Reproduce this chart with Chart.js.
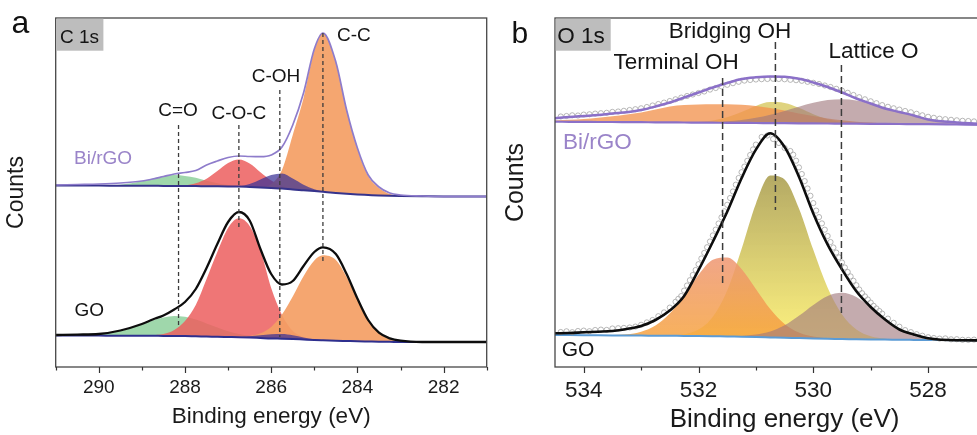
<!DOCTYPE html>
<html>
<head>
<meta charset="utf-8">
<script src="https://cdn.jsdelivr.net/npm/chart.js@4.4.1/dist/chart.umd.min.js"></script>
<style>
  html, body { margin: 0; padding: 0; background: #ffffff; overflow: hidden; width: 977px; height: 435px; }
  #wrap { position: relative; width: 977px; height: 435px; overflow: hidden; }
  canvas { position: absolute; top: 0; }
  #chartC { left: 0; }
  #chartO { left: 500px; }
</style>
</head>
<body>
<div id="wrap">
  <canvas id="chartC" width="500" height="450"></canvas>
  <canvas id="chartO" width="530" height="450"></canvas>
</div>
<script>
// ---------- C 1s panel (binding energy in eV, intensity in arbitrary counts) ----------
const energyC = [291, 290.5, 290, 289.5, 289, 288.75, 288.5, 288.25, 288, 287.75, 287.5, 287.25, 287, 286.75, 286.5, 286.25, 286, 285.75, 285.5, 285.25, 285, 284.8, 284.5, 284.25, 284, 283.75, 283.5, 283.25, 283, 282.5, 282, 281.5, 281];

const cBiEnvelope = [182, 182.5, 183, 184, 186, 188, 190.5, 193, 194.5, 196.5, 202, 206, 209.5, 211, 210.5, 210.3, 212, 220, 242, 274, 318, 334, 305, 257, 219, 192, 180, 174, 172, 171, 170.5, 170.5, 170.5];
const cBiBaseline = [181.5, 181.4, 181.4, 181.3, 181.3, 181.2, 181.1, 181, 181, 180.9, 180.8, 180.7, 180.6, 180.5, 180, 179.5, 179, 178.5, 177.5, 176.8, 176, 175.2, 174, 173.2, 172.5, 172, 171.5, 171.2, 171, 170.7, 170.5, 170.5, 170.5];
const cBiCC = [181.5, 181.4, 181.4, 181.3, 181.3, 181.2, 181.1, 181, 181, 180.9, 180.8, 180.7, 180.6, 180.5, 180, 179.7, 183, 197, 232, 269, 317, 334, 305, 257, 218, 191, 179, 173, 171, 170.7, 170.5, 170.5, 170.5];
const cBiCOH = [181.5, 181.4, 181.4, 181.3, 181.3, 181.2, 181.1, 181, 181, 180.9, 180.8, 180.7, 180.6, 180.7, 183, 187.5, 192, 193.5, 188.5, 182.3, 177.7, 175.5, 174, 173.2, 172.5, 172, 171.5, 171.2, 171, 170.7, 170.5, 170.5, 170.5];
const cBiCOC = [181.5, 181.4, 181.4, 181.3, 181.3, 181.2, 181.1, 181, 181.7, 183.7, 188.2, 196, 204, 207.5, 203.4, 194.7, 186.4, 181.2, 178.2, 176.8, 176, 175.2, 174, 173.2, 172.5, 172, 171.5, 171.2, 171, 170.7, 170.5, 170.5, 170.5];
const cBiCO = [181.5, 181.5, 181.6, 182.3, 185.7, 188.4, 190.8, 192, 190.9, 189.2, 186.3, 183.7, 182, 180.7, 180, 179.5, 179, 178.5, 177.5, 176.8, 176, 175.2, 174, 173.2, 172.5, 172, 171.5, 171.2, 171, 170.7, 170.5, 170.5, 170.5];

const cGoEnvelope = [32, 32.4, 33, 36.5, 43, 47.5, 51.5, 57.5, 65, 78, 99, 123, 145, 155, 146.5, 118, 93, 82.5, 86, 101, 115, 119.7, 113, 93, 68.5, 47, 34.3, 28.7, 26.3, 25, 25, 25, 25];
const cGoBaseline = [31.5, 31.5, 31.4, 31.3, 31.3, 31.2, 31.1, 31, 31, 30.7, 30.5, 30.2, 30, 29.8, 29.5, 29, 28.5, 28.3, 28, 27.5, 27, 26.7, 26.3, 26, 25.7, 25.5, 25.3, 25.2, 25, 25, 25, 25, 25];
const cGoCC = [31.5, 31.5, 31.4, 31.3, 31.3, 31.2, 31.1, 31, 31, 30.7, 30.5, 30.2, 30, 30.2, 31.1, 33.7, 40.1, 52.4, 70.5, 90.8, 106.6, 111.7, 107, 90, 68, 47, 34.3, 28.7, 26.3, 25, 25, 25, 25];
const cGoCOH = [31.5, 31.5, 31.4, 31.3, 31.3, 31.2, 31.1, 31, 31, 30.7, 30.5, 30.2, 30, 29.8, 30.7, 31.7, 32.7, 33, 31.7, 29.5, 27.8, 26.7, 26.3, 26, 25.7, 25.5, 25.3, 25.2, 25, 25, 25, 25, 25];
const cGoCOC = [31.5, 31.5, 31.4, 31.3, 31.3, 31.8, 33.1, 37, 46, 62, 88, 115, 139, 148.7, 141, 117, 79, 52, 36, 30, 27.3, 26.7, 26.3, 26, 25.7, 25.5, 25.3, 25.2, 25, 25, 25, 25, 25];
const cGoCO = [31.5, 31.6, 32.7, 36, 42.5, 46.6, 49.5, 51, 50.3, 47.5, 43.6, 39.4, 35.8, 33.1, 31.2, 29.8, 28.5, 28.3, 28, 27.5, 27, 26.7, 26.3, 26, 25.7, 25.5, 25.3, 25.2, 25, 25, 25, 25, 25];

const cTicks = [290, 288, 286, 284, 282];
const cMinorTicks = [291, 289, 287, 285, 283, 281];

const cPeakNames = ['C=O', 'C-O-C', 'C-OH', 'C-C'];
const cPeakEnergy = [288.15, 286.75, 285.8, 284.8];
const cGuideTop = [242, 242, 277, 334];
const cGuideBottom = [40, 137, 30, 105];
const cNameEnergy = [288.16, 286.75, 285.89, 284.08];
const cNameLevel = [256, 253.7, 290, 331];

const cSamples = ['Bi/rGO', 'GO'];
const cSampleEnergy = [289.9, 290.22];
const cSampleLevel = [208, 56.5];

// ---------- O 1s panel ----------
const energyO = [534.5, 534.25, 534, 533.75, 533.5, 533.25, 533, 532.75, 532.5, 532.25, 532, 531.75, 531.5, 531.25, 531, 530.75, 530.5, 530.25, 530, 529.75, 529.5, 529.25, 529, 528.75, 528.5, 528.25, 528, 527.5, 527, 526.5];

const oBiEnvelope = [248.7, 250, 251, 252, 253.5, 254.7, 257, 260.5, 264.5, 269.5, 274.5, 279.5, 284, 288, 289.7, 290.5, 290.2, 288.2, 284.5, 280, 274.5, 268.5, 263.5, 258.5, 255, 251.5, 247.5, 244.5, 243, 242.5];
const oBiBaseline = [245.3, 245.2, 245.1, 245, 245, 244.9, 244.8, 244.7, 244.6, 244.5, 244.4, 244.3, 244.2, 244.1, 244, 243.9, 243.8, 243.7, 243.6, 243.5, 243.4, 243.3, 243.2, 243.1, 243, 242.9, 242.8, 242.5, 242.2, 242];
const oBiTerminal = [246.5, 247.2, 248, 249.2, 250.7, 252.5, 254.5, 257.5, 260.5, 262, 262.5, 262.7, 262.7, 262.2, 261, 259, 256.5, 253.5, 251, 248.5, 246.7, 245.3, 244.4, 243.7, 243.3, 242.9, 242.8, 242.5, 242.2, 242];
const oBiBridging = [245.3, 245.2, 245.1, 245, 245, 244.9, 244.8, 244.7, 244.6, 244.5, 245.1, 246.5, 249.7, 255.1, 261.1, 264.9, 264.1, 259.2, 252.8, 247.8, 245, 243.5, 243.2, 243.1, 243, 242.9, 242.8, 242.5, 242.2, 242];
const oBiLattice = [245.3, 245.2, 245.1, 245, 245, 244.9, 244.8, 244.7, 244.6, 244.5, 244.4, 244.5, 245.8, 247.1, 249.2, 252.3, 256.1, 260.3, 264.2, 266.9, 267.7, 266.5, 263.3, 258.4, 255, 251, 247.4, 243.9, 242.3, 242];

const oGoEnvelope = [33.7, 34, 34.7, 35.3, 36, 38, 41, 47, 56.4, 71, 96.9, 125.3, 155.2, 188.8, 217.4, 233.7, 220, 190.3, 153.6, 122.4, 97.6, 75.7, 60, 47.4, 37.5, 32.5, 28.7, 26.7, 26.6, 26.5];
const oGoBaseline = [32, 31.9, 31.8, 31.7, 31.6, 31.5, 31.4, 31.3, 31.2, 31.1, 31, 30.8, 30.5, 30.3, 30, 29.6, 29.2, 28.9, 28.5, 28.2, 28, 27.7, 27.5, 27.4, 27.2, 27.1, 27, 26.8, 26.6, 26.5];
const oGoTerminal = [32, 31.9, 31.8, 31.8, 31.9, 32.7, 35.3, 41.5, 53.6, 70.5, 92.2, 107.2, 109.4, 98.1, 78.1, 58, 43.1, 34.5, 30.4, 28.7, 28, 27.7, 27.5, 27.4, 27.2, 27.1, 27, 26.8, 26.6, 26.5];
const oGoBridging = [32, 31.9, 31.8, 31.7, 31.6, 31.5, 31.4, 31.3, 31.6, 32.8, 37.4, 50.2, 76.5, 118, 163.3, 191.4, 187.5, 158.5, 117.2, 79.2, 52.5, 37.5, 30.8, 28.3, 27.2, 27.1, 27, 26.8, 26.6, 26.5];
const oGoLattice = [32, 31.9, 31.8, 31.7, 31.6, 31.5, 31.4, 31.3, 31.2, 31.1, 31, 30.8, 30.7, 31.1, 32.4, 35.5, 41.7, 51.2, 62.1, 71.1, 74.3, 70, 59.5, 47, 37.3, 32, 28.6, 26.9, 26.6, 26.5];

// measured O 1s counts (open circles)
const energyOBiRaw = [534.4, 534.3, 534.2, 534.1, 534.0, 533.9, 533.8, 533.7, 533.6, 533.5, 533.4, 533.3, 533.2, 533.1, 533.0, 532.9, 532.8, 532.7, 532.6, 532.5, 532.4, 532.3, 532.2, 532.1, 532.0, 531.9, 531.8, 531.7, 531.6, 531.5, 531.4, 531.3, 531.2, 531.1, 531.0, 530.9, 530.8, 530.7, 530.6, 530.5, 530.4, 530.3, 530.2, 530.1, 530.0, 529.9, 529.8, 529.7, 529.6, 529.5, 529.4, 529.3, 529.2, 529.1, 529.0, 528.9, 528.8, 528.7, 528.6, 528.5, 528.4, 528.3, 528.2, 528.1, 528.0, 527.9, 527.8, 527.7, 527.6, 527.5, 527.4, 527.3, 527.2, 527.1, 527.0];
const oBiRaw = [250.5, 251, 251.7, 251.5, 252.4, 252.7, 253.4, 253.8, 254.2, 255.1, 255.5, 256.2, 257, 257.8, 258.7, 260, 261.5, 263, 264.4, 266, 267.7, 269.4, 271, 272.5, 274, 275.5, 277.4, 279, 280.7, 282.2, 283.8, 285.2, 286.4, 287, 287.5, 287.8, 288, 288.2, 288, 287.7, 287.2, 286.8, 286.2, 285.2, 284.2, 283, 281.5, 280, 278.2, 276.4, 274.2, 272, 269.8, 267.7, 265.7, 263.8, 261.9, 260.2, 258.7, 257.4, 256, 254.7, 253.2, 251.7, 250.2, 249.2, 248.3, 247.8, 247.2, 246.7, 246.2, 246, 245.6, 245.5, 245.1];

const energyOGoRaw = [534.4, 534.3, 534.2, 534.1, 534.0, 533.9, 533.8, 533.7, 533.6, 533.5, 533.4, 533.3, 533.2, 533.1, 533.0, 532.9, 532.8, 532.7, 532.6, 532.5, 532.4, 532.35, 532.3, 532.25, 532.2, 532.15, 532.1, 532.05, 532.0, 531.95, 531.9, 531.85, 531.8, 531.75, 531.7, 531.65, 531.6, 531.55, 531.5, 531.45, 531.4, 531.35, 531.3, 531.25, 531.2, 531.15, 531.1, 531.05, 531.0, 530.9, 530.8, 530.7, 530.6, 530.5, 530.4, 530.35, 530.3, 530.25, 530.2, 530.15, 530.1, 530.05, 530.0, 529.95, 529.9, 529.85, 529.8, 529.75, 529.7, 529.65, 529.6, 529.55, 529.5, 529.45, 529.4, 529.35, 529.3, 529.25, 529.2, 529.15, 529.1, 529.05, 529.0, 528.95, 528.9, 528.85, 528.8, 528.7, 528.6, 528.5, 528.4, 528.3, 528.2, 528.1, 528.0, 527.9, 527.8, 527.7, 527.6, 527.5, 527.4, 527.3, 527.2, 527.1, 527.0];
const oGoRaw = [35, 35.7, 34.8, 36, 36.4, 35.8, 37, 37.4, 37.1, 38.5, 38.8, 39.1, 39.5, 40.4, 42.2, 44.6, 47, 50.8, 54.6, 59.4, 65.2, 68.2, 71, 76.4, 81.5, 86.8, 92, 97, 102.8, 108.5, 114.1, 119.8, 125.5, 131.6, 137.4, 143.5, 149.6, 155.7, 162.2, 169, 175.5, 182.3, 189, 194.8, 200.4, 206.2, 212, 217.6, 222.4, 230, 231.5, 228, 224, 219, 216, 212.3, 206.3, 199.6, 193, 185.9, 178.5, 171.2, 163.9, 156.4, 149.9, 143.6, 137.3, 131, 125, 119.5, 114.4, 109.6, 104.5, 99.5, 95, 90.6, 86.2, 81.8, 77.5, 73.8, 70.6, 67.5, 64.4, 61.2, 58.5, 56, 53.4, 48.4, 44.2, 40.3, 36.9, 34.9, 32.8, 31.3, 29.8, 29, 28.4, 28.6, 27.7, 27.8, 27.2, 27.1, 27.4, 26.9, 26.7];

const oTicks = [534, 532, 530, 528];
const oMinorTicks = [533, 531, 529, 527];

const oPeakNames = ['Terminal OH', 'Bridging OH', 'Lattice O'];
const oPeakEnergy = [531.58, 530.66, 529.51];
const oGuideTop = [289, 325, 302];
const oGuideBottom = [82, 157, 54];
const oNameEnergy = [532.39, 531.45, 528.95];
const oNameLevel = [304.5, 335, 315.5];

const oSamples = ['Bi/rGO', 'GO'];
const oSampleEnergy = [533.76, 534.1];
const oSampleLevel = [224.5, 17];

// ---------- shared helpers ----------
const FONT = '"Liberation Sans", Arial, Helvetica, sans-serif';
Chart.defaults.font.family = FONT;
Chart.defaults.color = '#1a1a1a';
Chart.defaults.animation = false;

const pts = (xs, ys) => xs.map((x, i) => ({ x, y: ys[i] }));

function area(xs, ys, color, order, base) {
  return { data: pts(xs, ys), borderWidth: 0, pointRadius: 0, fill: { target: base },
           backgroundColor: color, order, cubicInterpolationMode: 'monotone' };
}
function curve(xs, ys, color, width, order) {
  return { data: pts(xs, ys), borderColor: color, borderWidth: width, pointRadius: 0,
           fill: false, order, cubicInterpolationMode: 'monotone' };
}
function markers(xs, ys, order) {
  return { data: pts(xs, ys), showLine: false, pointRadius: 2.6, pointStyle: 'circle',
           pointBorderColor: 'rgba(150,150,150,0.85)', pointBorderWidth: 0.8,
           pointBackgroundColor: 'rgba(255,255,255,0.35)', fill: false, order };
}
function guides(es, tops, bottoms, dash, width) {
  return es.map((e, i) => ({ data: [{ x: e, y: tops[i] }, { x: e, y: bottoms[i] }],
    borderColor: '#3c3c3c', borderWidth: width, borderDash: dash, pointRadius: 0, fill: false, order: -1 }));
}
// vertical gradient from a curve's peak down to its baseline
function vGrad(peakVals, baseVals, colTop, colBottom) {
  const top = Math.max(...peakVals), bottom = Math.min(...baseVals);
  return (c) => {
    const chart = c.chart;
    if (!chart.chartArea) return colBottom;
    const y = chart.scales.y;
    const g = chart.ctx.createLinearGradient(0, y.getPixelForValue(top), 0, y.getPixelForValue(bottom));
    g.addColorStop(0, colTop);
    g.addColorStop(1, colBottom);
    return g;
  };
}

function decor(cfg) {
  return {
    id: 'panelDecor',
    afterDraw(chart) {
      const { ctx, chartArea: a, scales: { x, y } } = chart;
      ctx.save();
      // frame
      ctx.strokeStyle = '#474747';
      ctx.lineWidth = 1.3;
      ctx.strokeRect(a.left, a.top, a.right - a.left, a.bottom - a.top);
      // tick marks below the axis
      ctx.strokeStyle = '#333333';
      ctx.lineWidth = 1.2;
      const tick = (v, len) => {
        const px = Math.round(x.getPixelForValue(v)) + 0.5;
        ctx.beginPath(); ctx.moveTo(px, a.bottom); ctx.lineTo(px, a.bottom + len); ctx.stroke();
      };
      cfg.major.forEach(v => tick(v, 6));
      cfg.minor.forEach(v => tick(v, 3.5));
      // core-level tag
      ctx.fillStyle = '#bdbdbd';
      ctx.fillRect(a.left + 0.7, a.top + 0.7, cfg.tagW, 32);
      ctx.fillStyle = '#141414';
      ctx.font = `${cfg.tagSize}px ${FONT}`;
      ctx.textAlign = 'left';
      ctx.textBaseline = 'alphabetic';
      ctx.fillText(cfg.tag, a.left + cfg.tagPad, a.top + 25.3);
      // peak names
      ctx.font = `${cfg.nameSize}px ${FONT}`;
      ctx.textAlign = 'center';
      ctx.textBaseline = 'middle';
      cfg.names.forEach((t, i) => ctx.fillText(t, x.getPixelForValue(cfg.nameE[i]), y.getPixelForValue(cfg.nameV[i])));
      // sample names
      cfg.samples.forEach((t, i) => {
        ctx.fillStyle = i === 0 ? '#9a84c9' : '#141414';
        ctx.font = `${cfg.sampleSize[i]}px ${FONT}`;
        ctx.fillText(t, x.getPixelForValue(cfg.sampleE[i]), y.getPixelForValue(cfg.sampleV[i]));
      });
      // rotated axis name when it is not centred on the plot
      if (cfg.yName) {
        ctx.save();
        ctx.fillStyle = '#1a1a1a';
        ctx.font = `${cfg.yName.size}px ${FONT}`;
        ctx.translate(cfg.yName.x, cfg.yName.y);
        ctx.rotate(-Math.PI / 2);
        ctx.textAlign = 'center';
        ctx.textBaseline = 'middle';
        ctx.fillText(cfg.yName.text, 0, 0);
        ctx.restore();
      }
      // panel letter
      ctx.fillStyle = '#111111';
      ctx.font = `${cfg.letterSize}px ${FONT}`;
      ctx.textAlign = 'left';
      ctx.textBaseline = 'alphabetic';
      ctx.fillText(cfg.letter, cfg.letterX, cfg.letterY);
      ctx.restore();
    }
  };
}

function scales(min, max, ticks, tickSize, tickPad, titleSize, titlePad, yTitle, yWidth) {
  return {
    x: {
      type: 'linear', min, max, reverse: true,
      grid: { display: false, drawTicks: false }, border: { display: false },
      afterBuildTicks: (s) => { s.ticks = ticks.map(v => ({ value: v })); },
      afterFit: (s) => { s.height = 83; },
      ticks: { autoSkip: false, maxRotation: 0, padding: tickPad, font: { size: tickSize }, color: '#1a1a1a',
               callback: (v) => String(v) },
      title: { display: true, text: 'Binding energy (eV)', font: { size: titleSize }, color: '#1a1a1a',
               padding: { top: 0, bottom: titlePad } }
    },
    y: {
      min: 0, max: 349,
      grid: { display: false }, border: { display: false },
      ticks: { display: false },
      afterFit: (s) => { s.width = yWidth; },
      title: yTitle
    }
  };
}

// ---------- C 1s chart ----------
new Chart(document.getElementById('chartC'), {
  type: 'line',
  data: {
    datasets: [
      curve(energyC, cBiBaseline, '#36338c', 2, 3),                         // 0
      area(energyC, cBiCO, 'rgba(100,190,120,0.62)', 8, 0),                 // 1
      area(energyC, cBiCOC, 'rgba(236,96,96,0.86)', 7, 0),                  // 2
      area(energyC, cBiCC, 'rgba(244,158,100,0.92)', 6, 0),                 // 3
      area(energyC, cBiCOH, 'rgba(58,48,150,0.72)', 5, 0),                  // 4
      curve(energyC, cBiEnvelope, '#8e7ccb', 1.7, 1),                       // 5
      curve(energyC, cGoBaseline, '#2e2f8e', 2, 3),                         // 6
      area(energyC, cGoCO, 'rgba(100,190,120,0.62)', 8, 6),                 // 7
      area(energyC, cGoCOC, 'rgba(236,96,96,0.86)', 7, 6),                  // 8
      area(energyC, cGoCC, 'rgba(244,158,100,0.92)', 6, 6),                 // 9
      area(energyC, cGoCOH, 'rgba(58,48,150,0.72)', 5, 6),                  // 10
      curve(energyC, cGoEnvelope, '#0d0d0d', 2.3, 1),                       // 11
      ...guides(cPeakEnergy, cGuideTop, cGuideBottom, [4, 3], 1.3)
    ]
  },
  options: {
    responsive: false,
    devicePixelRatio: 1,
    layout: { padding: { left: 0, right: 13.3, top: 18, bottom: 0 } },
    plugins: { legend: { display: false }, tooltip: { enabled: false } },
    scales: scales(281, 291, cTicks, 19, 9, 22.5, 20,
      { display: true, text: 'Counts', font: { size: 23 }, color: '#1a1a1a', padding: { top: 3.2, bottom: 0 } }, 55.7)
  },
  plugins: [decor({
    major: cTicks, minor: cMinorTicks,
    tag: 'C 1s', tagW: 47, tagSize: 19, tagPad: 4.3,
    names: cPeakNames, nameE: cNameEnergy, nameV: cNameLevel, nameSize: 19,
    samples: cSamples, sampleE: cSampleEnergy, sampleV: cSampleLevel, sampleSize: [19, 19],
    letter: 'a', letterSize: 32, letterX: 11.5, letterY: 33.3
  })]
});

// ---------- O 1s chart ----------
new Chart(document.getElementById('chartO'), {
  type: 'line',
  data: {
    datasets: [
      curve(energyO, oBiBaseline, '#8b70c8', 2.2, 3),                                                    // 0
      area(energyO, oBiBridging, 'rgba(215,200,95,0.8)', 8, 0),                                          // 1
      area(energyO, oBiTerminal, 'rgba(242,148,80,0.78)', 7, 0),                                         // 2
      area(energyO, oBiLattice, 'rgba(160,120,125,0.62)', 6, 0),                                         // 3
      markers(energyOBiRaw, oBiRaw, 2),                                                                  // 4
      curve(energyO, oBiEnvelope, '#8b70c8', 2.5, 1),                                                    // 5
      curve(energyO, oGoBaseline, '#5b9bd5', 2, 3),                                                      // 6
      area(energyO, oGoBridging, vGrad(oGoBridging, oGoBaseline, 'rgba(172,160,84,0.9)', 'rgba(252,238,105,0.85)'), 8, 6), // 7
      area(energyO, oGoTerminal, vGrad(oGoTerminal, oGoBaseline, 'rgba(238,150,115,0.85)', 'rgba(246,160,55,0.82)'), 7, 6), // 8
      area(energyO, oGoLattice, 'rgba(160,120,125,0.62)', 6, 6),                                         // 9
      markers(energyOGoRaw, oGoRaw, 2),                                                                  // 10
      curve(energyO, oGoEnvelope, '#0d0d0d', 2.6, 1),                                                    // 11
      ...guides(oPeakEnergy, oGuideTop, oGuideBottom, [7, 4], 1.5)
    ]
  },
  options: {
    responsive: false,
    devicePixelRatio: 1,
    layout: { padding: { left: 0, right: 15.8, top: 18, bottom: 0 } },
    plugins: { legend: { display: false }, tooltip: { enabled: false } },
    scales: scales(526.5, 534.5, oTicks, 22.5, 10.5, 26, 14.8, { display: false }, 55)
  },
  plugins: [decor({
    major: oTicks, minor: oMinorTicks,
    tag: 'O 1s', tagW: 55, tagSize: 22.5, tagPad: 2.3,
    names: oPeakNames, nameE: oNameEnergy, nameV: oNameLevel, nameSize: 22.5,
    samples: oSamples, sampleE: oSampleEnergy, sampleV: oSampleLevel, sampleSize: [22.5, 21],
    yName: { text: 'Counts', size: 25, x: 16.3, y: 182.5 },
    letter: 'b', letterSize: 30, letterX: 11.5, letterY: 43.3
  })]
});
</script>
</body>
</html>
